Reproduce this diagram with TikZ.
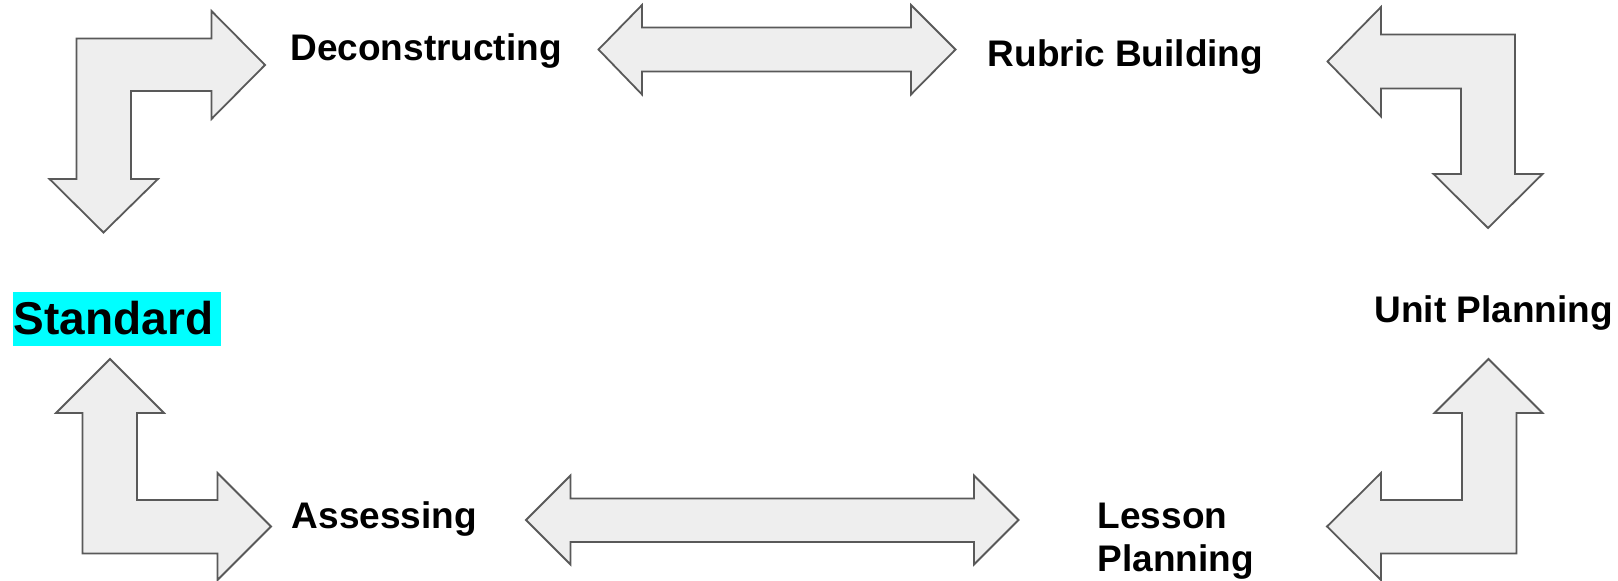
\documentclass[tikz,border=0pt]{standalone}
\usepackage{fontspec}
\setmainfont{Liberation Sans}
\definecolor{arrowfill}{HTML}{EEEEEE}
\definecolor{arrowline}{HTML}{595959}
\definecolor{highlight}{HTML}{00FFFF}

\begin{document}
\begin{tikzpicture}[
        x=0.5pt,y=-0.5pt,
        blockarrow/.style={draw=arrowline,fill=arrowfill,line width=0.9pt,line join=miter},
        stage/.style={font=\bfseries\fontsize{18.5}{21.7}\selectfont,inner sep=0pt,anchor=base west,align=left}
    ]
        \useasboundingbox (0,0) rectangle (1618,581);

        % Define the stages
        \node[stage,fill=highlight,inner xsep=0.6pt,text height=21.3pt,text depth=5.7pt,text width=103pt,
              font=\bfseries\fontsize{23}{27}\selectfont] (Standard) at (12.3,334.3) {Standard};
        \node[stage] (Deconstructing) at (290,60.7) {Deconstructing};
        \node[stage] (Rubric) at (987.3,66.7) {Rubric Building};
        \node[stage] (Unit) at (1374,322.7) {Unit Planning};
        \node[stage] (Lesson) at (1097.3,571.7) {Lesson\\Planning};
        \node[stage] (Assessing) at (291.5,529) {Assessing};

        % Draw the top left arrow (right and down)
        \draw[blockarrow] (76.5,38.5) -- (211.5,38.5) -- (211.5,11) -- (265,65) -- (211.5,119) -- (211.5,91)
            -- (131,91) -- (131,179) -- (158,179) -- (103.5,232.5) -- (49.5,179) -- (76.5,179) -- cycle;

        % Draw the top double arrow
        \draw[blockarrow] (598.5,49.5) -- (642,5) -- (642,27.5) -- (911,27.5) -- (911,5) -- (955.5,49.5)
            -- (911,94.5) -- (911,71.5) -- (642,71.5) -- (642,94.5) -- cycle;

        % Draw the top right arrow (left and down)
        \draw[blockarrow] (1327.5,61.5) -- (1381,7) -- (1381,34.5) -- (1515,34.5) -- (1515,174) -- (1542.5,174)
            -- (1488,228) -- (1433.5,174) -- (1461,174) -- (1461,88.5) -- (1381,88.5) -- (1381,116.5) -- cycle;

        % Draw the bottom left arrow (up and right)
        \draw[blockarrow] (110,359) -- (164,413) -- (137,413) -- (137,500) -- (217.5,500) -- (217.5,473)
            -- (271,526.5) -- (217.5,580) -- (217.5,553.5) -- (82.5,553.5) -- (82.5,413) -- (56,413) -- cycle;

        % Draw the bottom double arrow
        \draw[blockarrow] (526,520) -- (570.5,475.5) -- (570.5,498.5) -- (974,498.5) -- (974,475.5) -- (1018.5,520)
            -- (974,564.5) -- (974,542) -- (570.5,542) -- (570.5,564.5) -- cycle;

        % Draw the bottom right arrow (up and left)
        \draw[blockarrow] (1488.5,359) -- (1542.5,413) -- (1516.5,413) -- (1516.5,553.5) -- (1381,553.5) -- (1381,580)
            -- (1327,526.5) -- (1381,473) -- (1381,500) -- (1462,500) -- (1462,413) -- (1434.5,413) -- cycle;
    \end{tikzpicture}
\end{document}
